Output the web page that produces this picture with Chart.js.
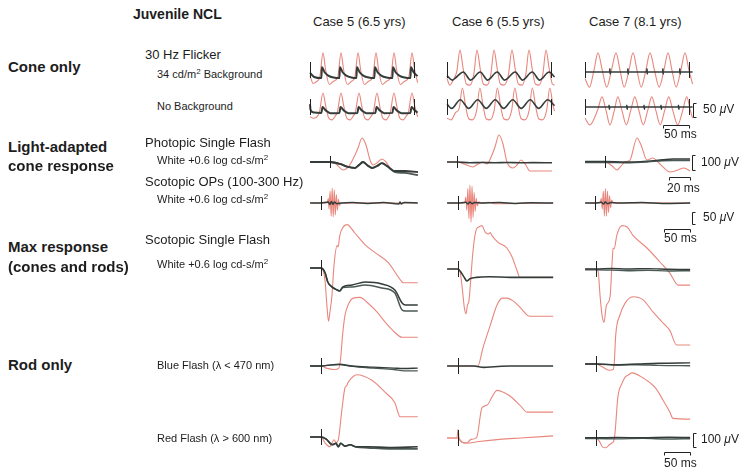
<!DOCTYPE html>
<html>
<head>
<meta charset="utf-8">
<script src="https://cdn.jsdelivr.net/npm/chart.js@4.4.0/dist/chart.umd.min.js"></script>
<style>
body { margin: 0; background: #fff; width: 745px; height: 476px; overflow: hidden; position: relative;
       font-family: "Liberation Sans", Arial, Helvetica, sans-serif; color: #1d1d1d; }
.t { position: absolute; white-space: nowrap; line-height: 1; }
.b { font-weight: bold; font-size: 15px; }
.hd { font-size: 13px; }
.s { font-size: 11px; }
canvas { position: absolute; }
</style>
</head>
<body>
<script>
// time in ms (0 = flash), amplitude in microvolts
const flashMs = [0];
const flickTickMs = [0, 197];
const barUv = [50, 100, 50, 100];
const barMs = [50, 20, 50, 50];

// 30 Hz flicker, 34 cd/m2 background
const c5FlkBgRed = [[0,-20],[6,-48],[12,-42],[18.5,-25],[24.5,61],[29.5,0],[36.5,-52],[44.5,-40],[52.5,-25],[58.5,61],[63.5,0],[70.5,-52],[78.5,-40],[84.6,-25],[90.6,61],[95.6,0],[102.6,-52],[110.6,-40],[118.5,-25],[124.5,61],[129.5,0],[136.5,-52],[144.5,-40],[152.5,-25],[158.5,61],[163.5,0],[170.5,-52],[178.5,-40],[186.5,-25],[192.5,61],[197.5,0],[203,-45]];
const c5FlkBgPt = [[0,-10],[8,-25],[21.5,-29],[22.5,11],[27.5,-8],[34.5,-20],[44.5,-27],[55.5,-29],[56.5,11],[61.5,-8],[68.5,-20],[78.5,-27],[87.6,-29],[88.6,11],[93.6,-8],[100.6,-20],[110.6,-27],[121.5,-29],[122.5,11],[127.5,-8],[134.5,-20],[144.5,-27],[155.5,-29],[156.5,11],[161.5,-8],[168.5,-20],[178.5,-27],[189.5,-29],[190.5,11],[195.5,-8],[203,-22]];
const c6FlkBgRed = [[0,-30],[5,-54],[12,-35],[18.5,-5],[24.5,71],[30.5,5],[36.5,-50],[43.5,-54],[50.6,-15],[56.6,71],[62.6,5],[68.6,-50],[75.6,-54],[82.7,-15],[88.7,71],[94.7,5],[100.7,-50],[107.7,-54],[115.6,-20],[122.6,71],[128.6,5],[134.6,-50],[141.6,-54],[148.7,-15],[154.7,71],[160.7,5],[166.7,-50],[173.7,-54],[180.8,-15],[186.8,71],[192.8,5],[198.8,-50],[203,-54]];
const c6FlkBgPt = [[0,-20],[10,-36],[18,-25],[30.5,-7],[44.5,-36],[62.6,-7],[76.6,-36],[94.7,-7],[108.7,-36],[128.6,-7],[142.6,-36],[160.7,-7],[174.7,-36],[192.8,-7],[203,-25]];
const c7FlkBgRed = [[0,-30],[8.5,-61],[17,0],[24.5,61],[32.5,0],[41,-61],[50,0],[58.5,61],[66,0],[74,-61],[83,0],[90.6,61],[98,0],[106,-61],[115,0],[122.6,61],[131,0],[140,-61],[149,0],[156.6,61],[164,0],[172,-61],[181,0],[188.7,61],[196,0],[203,-50]];
const c7FlkBgPt = [[0,-7],[46.5,-7],[47,4],[47.5,-14],[48,-7],[80.5,-7],[81,4],[81.5,-14],[82,-7],[116.5,-7],[117,4],[117.5,-14],[118,-7],[146.5,-7],[147,4],[147.5,-14],[148,-7],[178.5,-7],[179,4],[179.5,-14],[180,-7],[203,-7]];

// 30 Hz flicker, no background
const c5FlkNoRed = [[0,-35],[6,-40],[17.5,-20],[24.5,50],[29.5,5],[35.5,-40],[41.5,-46],[48.5,-30],[51.5,-20],[58.5,50],[63.5,5],[69.5,-40],[75.5,-46],[82.5,-30],[85.5,-20],[92.5,50],[97.5,5],[103.5,-40],[109.5,-46],[116.4,-30],[119.4,-20],[126.4,50],[131.4,5],[137.4,-40],[143.4,-46],[149.5,-30],[151.5,-20],[158.5,50],[163.5,5],[169.5,-40],[175.5,-46],[182.5,-30],[185.5,-20],[192.5,50],[197.5,5],[203,-35]];
const c5FlkNoPt = [[0,10],[1,-10],[8,-20],[21.5,-21],[23.5,0],[29.5,-12],[38.5,-22],[55.5,-21],[57.5,0],[63.5,-12],[72.5,-22],[89.5,-21],[91.5,0],[97.5,-12],[106.5,-22],[123.4,-21],[125.4,0],[131.4,-12],[140.4,-22],[155.5,-21],[157.5,0],[163.5,-12],[172.5,-22],[189.5,-21],[191.5,0],[197.5,-12],[203,-20]];
const c6FlkNoRed = [[0,-40],[8,-46],[16,-20],[23,-5],[29,68],[35,5],[41,-42],[48,-46],[56,-12],[62,68],[68,5],[74,-42],[81,-46],[89,-12],[95,68],[101,5],[107,-42],[114,-46],[122,-12],[128,68],[134,5],[140,-42],[147,-46],[155,-12],[161,68],[167,5],[173,-42],[180,-46],[188,-12],[194,68],[200,5],[203,-15]];
const c6FlkNoPt = [[0,10],[9,-5],[25,26],[41,-5],[58,26],[74,-5],[91,26],[107,-5],[124,26],[140,-5],[157,26],[173,-5],[190,26],[203,5]];
const c7FlkNoRed = [[0,-40],[9,-64],[24,-10],[32,36],[40,-15],[47,-64],[55,-15],[62,36],[70,-15],[78,-64],[86,-15],[94,36],[102,-15],[110,-64],[118,-15],[126,36],[134,-15],[142,-64],[150,-15],[158,36],[166,-15],[175,-64],[184,-15],[192,36],[199,-15],[203,-40]];
const c7FlkNoPt = [[0,0],[45,0],[45.5,6],[46,-8],[46.5,0],[78.5,0],[79,6],[79.5,-8],[80,0],[111,0],[111.5,6],[112,-8],[112.5,0],[143,0],[143.5,6],[144,-8],[144.5,0],[176,0],[176.5,6],[177,-8],[177.5,0],[203,0]];

// photopic single flash
const c5PhotRed = [[-19,0],[0,0],[5.7,-13],[12.4,-53],[18.1,-27],[23.8,47],[26.7,93],[30.5,160],[34.3,113],[38.1,13],[41,-20],[45.7,0],[49.5,20],[53.3,0],[59,-53],[66.7,-67],[83.8,-67]];
const c5PhotPtA = [[-19,0],[0,0],[9.5,-13],[17.1,-33],[23.8,-40],[27.6,-20],[31.4,0],[35.2,-20],[40,-40],[44.8,-27],[49.5,-7],[54.3,-27],[61.9,-60],[71.4,-60],[83.8,-67]];
const c5PhotPtB = [[-19,0],[0,0],[9.5,-13],[17.1,-33],[23.8,-40],[27.6,-20],[31.4,0],[35.2,-20],[40,-40],[44.8,-27],[49.5,-7],[54.3,-27],[61.9,-67],[71.4,-73],[83.8,-87]];
const c6PhotRed = [[-9.5,0],[0,0],[6.7,-13],[15.2,-33],[20,-13],[24.8,0],[28.6,-13],[33.3,47],[36.2,100],[40,180],[43.8,120],[47.6,0],[53.3,-40],[57.1,-20],[61,13],[64.8,-13],[69.5,-60],[77.1,-60],[90.5,-60]];
const c6PhotPt = [[-9.5,0],[0,0],[12,-5],[24,-3],[36,-5],[48,-3],[60,-5],[72,-4],[90.5,-5]];
const c7PhotRed = [[-19,0],[0,0],[5.7,-20],[11.4,-53],[15.2,-27],[19,0],[23.8,13],[30.5,160],[34.3,113],[40,13],[45.7,27],[50.5,0],[55.2,-33],[61.9,-67],[69.5,-53],[75.2,-40],[81,-60]];
const c7PhotPtA = [[-19,3],[0,3],[20,0],[40,6],[55,15],[65,20],[81,20]];
const c7PhotPtB = [[-19,-3],[0,-3],[20,-5],[40,0],[55,8],[65,10],[81,10]];

// scotopic oscillatory potentials
const c5OpRed = [[-21,0],[0,0],[12,0],[14,20],[15.5,-25],[17.5,50],[19.5,-55],[21.5,62],[23.5,-58],[25.5,55],[27.5,-50],[29.5,35],[31.5,-30],[33.5,15],[35.5,-10],[38,0],[186,0]];
const c5OpPt = [[-21,0],[0,0],[14,4],[17,-6],[20,6],[23,-5],[26,4],[30,-3],[40,0],[60,2],[90,-2],[120,2],[150,-4],[152,4],[154,-4],[160,2],[186,0]];
const c6OpRed = [[-21,0],[0,0],[13,0],[15,25],[17,-30],[19,60],[21,-65],[23,75],[25,-80],[27,70],[29,-60],[31,45],[33,-35],[35,20],[37,-12],[40,5],[44,0],[60,3],[70,-3],[183,0]];
const c6OpPt = [[-21,0],[0,0],[15,3],[19,-4],[23,4],[27,-3],[32,2],[45,0],[80,2],[110,-2],[140,1],[183,0]];
const c7OpRed = [[-19,0],[0,0],[10,0],[12,20],[14,-25],[16,50],[18,-55],[20,60],[22,-55],[24,50],[26,-40],[28,30],[30,-20],[32,12],[35,0],[183,0]];
const c7OpPt = [[-19,0],[0,0],[12,3],[16,-4],[20,4],[24,-3],[30,2],[45,0],[90,2],[130,-2],[183,0]];

// scotopic single flash (max response)
const c5ScotRed = [[-21,0],[0,0],[4,-14],[8,-100],[11,-250],[14.5,-380],[17,-320],[21,-200],[25,20],[31,160],[33,150],[36,230],[42,290],[50,310],[65,250],[85,165],[104,110],[129,40],[156,-100],[158,-105],[186,-105]];
const c5ScotPtA = [[-21,0],[0,0],[8,-36],[13,-100],[21,-135],[31,-157],[36,-164],[42,-135],[60,-121],[85,-100],[117,-114],[142,-157],[156,-250],[162,-264],[186,-264]];
const c5ScotPtB = [[-21,0],[0,0],[8,-36],[13,-100],[21,-135],[31,-157],[36,-164],[42,-140],[60,-135],[85,-121],[117,-143],[142,-179],[156,-300],[162,-307],[186,-307]];
const c6ScotRed = [[-21,0],[0,0],[4,-20],[8,-130],[12,-270],[15.4,-320],[18,-260],[21,-230],[23,-150],[27,50],[31,200],[35,280],[40,300],[46,310],[52,265],[58,250],[62,260],[65,240],[77,190],[94,150],[104,85],[113,-5],[119,-60],[183,-60]];
const c6ScotPt = [[-21,0],[0,0],[5,-20],[12,-60],[17,-85],[23,-70],[35,-60],[60,-55],[100,-60],[183,-60]];
const c7ScotRed = [[-21,0],[0,0],[4,-15],[8,-200],[12,-340],[15.4,-380],[20,-260],[27,-200],[31,50],[33,150],[35,145],[40,240],[50,310],[60,300],[71,240],[98,150],[123,50],[142,-30],[158,-115],[181,-115]];
const c7ScotPtA = [[-21,0],[0,0],[30,4],[60,0],[100,3],[140,-2],[181,-4]];
const c7ScotPtB = [[-21,-6],[0,-6],[30,-8],[60,-12],[100,-9],[140,-14],[181,-12]];

// rod only: blue flash
const c5BlueRed = [[-21,0],[0,0],[10,-15],[25,-25],[33,-20],[37,30],[42,240],[46,360],[52,435],[62,485],[75,490],[90,450],[108,385],[123,315],[138,255],[156,205],[186,205]];
const c5BluePtA = [[-21,0],[0,0],[20,8],[35,12],[60,0],[100,-8],[140,-15],[160,-18],[186,-15]];
const c5BluePtB = [[-21,0],[0,0],[20,8],[35,10],[60,-3],[100,-15],[140,-25],[160,-35],[186,-35]];
const c6BlueRed = [[-21,0],[0,0],[38,0],[48,130],[62,290],[75,435],[85,485],[94,485],[106,465],[119,420],[138,355],[183,355]];
const c6BluePt = [[-21,0],[0,0],[30,0],[50,-10],[70,-5],[100,0],[183,0]];
const c7BlueRed = [[-21,0],[0,0],[12,-20],[25,-45],[33,-40],[35,0],[38,210],[46,350],[56,435],[71,480],[90,460],[110,370],[127,300],[142,240],[155,136],[181,136]];
const c7BluePtA = [[-21,0],[0,0],[40,-5],[80,0],[120,5],[181,8]];
const c7BluePtB = [[-21,0],[0,0],[40,-8],[80,-5],[120,-10],[181,-12]];

// rod only: red flash
const c5RedRed = [[-21,0],[0,0],[8,-43],[17,-70],[25,-20],[29,-40],[33,-25],[40,190],[46,350],[50,370],[52,390],[65,440],[69,445],[98,405],[123,320],[142,245],[152,145],[186,145]];
const c5RedPtA = [[-21,0],[0,0],[10,-15],[22,-55],[29,-45],[33,-70],[38,-45],[46,-65],[56,-55],[67,-70],[90,-70],[130,-75],[186,-70]];
const c5RedPtB = [[-21,0],[0,0],[10,-15],[22,-55],[29,-45],[33,-70],[38,-45],[46,-65],[56,-55],[67,-72],[90,-78],[130,-85],[186,-85]];
const c6RedRedA = [[-21,0],[-2,0],[0,60],[2,0],[8,-30],[17,-36],[25,-10],[36,5],[46,215],[56,235],[65,290],[75,340],[85,330],[100,300],[119,235],[133,185],[183,185]];
const c6RedRedB = [[-21,0],[0,0],[8,-30],[17,-36],[40,-25],[80,-10],[120,0],[183,15]];
const c7RedRed = [[-21,0],[0,0],[6,-20],[13,-65],[19,-70],[25,-50],[31,-35],[35,-10],[37,55],[42,290],[50,390],[56,435],[62,450],[69,465],[90,430],[114,360],[129,270],[142,185],[148,140],[181,135]];
const c7RedPtA = [[-21,2],[0,2],[40,4],[90,2],[140,5],[181,4]];
const c7RedPtB = [[-21,-4],[0,-4],[40,-6],[90,-3],[140,-7],[181,-5]];

const red = '#e8877d';
const grays = ['#353d3b', '#4b5a56'];
const colLeft = [310, 447, 585];

const rows = {
  flkBg: { base: [70, 70, 70], org: [310, 447, 585], pxMs: 0.53, pxUv: 0.28, up: 40, down: 40, tick: 8 },
  flkNo: { base: [107, 107, 107], org: [310, 447, 585], pxMs: 0.53, pxUv: 0.28, up: 40, down: 40, tick: 8 },
  phot:  { base: [162, 162, 162], org: [330, 457, 605], pxMs: 1.05, pxUv: 0.15, up: 40, down: 30, tick: 6 },
  ops:   { base: [203, 203, 203], org: [321, 458, 595], pxMs: 0.52, pxUv: 0.24, up: 30, down: 32, tick: 7 },
  scot:  { base: [268, 269, 269], org: [321, 458, 596], pxMs: 0.52, pxUv: 0.14, up: 60, down: 65, tick: 8 },
  blue:  { base: [366, 366, 364], org: [321, 458, 596], pxMs: 0.52, pxUv: 0.14, up: 80, down: 20, tick: 8 },
  redf:  { base: [437, 438, 438], org: [321, 458, 596], pxMs: 0.52, pxUv: 0.14, up: 80, down: 30, tick: 8 }
};

const marks = {
  id: 'marks',
  afterDatasetsDraw(chart, args, o) {
    const { ctx } = chart, x = chart.scales.x, y = chart.scales.y;
    ctx.save();
    ctx.strokeStyle = '#222';
    ctx.lineWidth = 1;
    (o.ticks || []).forEach(t => {
      const px = Math.round(x.getPixelForValue(t)) + 0.5, py = y.getPixelForValue(0);
      ctx.beginPath(); ctx.moveTo(px, py - o.len); ctx.lineTo(px, py + o.len); ctx.stroke();
    });
    if (o.bar) {
      const b = o.bar;
      const bx = Math.round(x.getPixelForValue(b.at[0])) + 0.5;
      const y0 = Math.round(y.getPixelForValue(b.at[1])) + 0.5, y1 = Math.round(y.getPixelForValue(b.at[1] + b.uv)) + 0.5;
      ctx.beginPath(); ctx.moveTo(bx + 3, y0); ctx.lineTo(bx, y0); ctx.lineTo(bx, y1); ctx.lineTo(bx + 3, y1); ctx.stroke();
      const hy = Math.round(y.getPixelForValue(b.msAt[1])) + 0.5;
      const x0 = Math.round(x.getPixelForValue(b.msAt[0])) + 0.5, x1 = Math.round(x.getPixelForValue(b.msAt[0] + b.ms)) + 0.5;
      ctx.beginPath(); ctx.moveTo(x0, hy + 3); ctx.lineTo(x0, hy); ctx.lineTo(x1, hy); ctx.lineTo(x1, hy + 3); ctx.stroke();
    }
    ctx.restore();
  }
};

function trace(pts, color, w) {
  return {
    data: pts.map(p => ({ x: p[0], y: p[1] })),
    borderColor: color, borderWidth: w, pointRadius: 0, fill: false, clip: false,
    cubicInterpolationMode: 'monotone'
  };
}

function draw(key, col, normal, patient, ticks, bar, pw) {
  const r = rows[key];
  const base = r.base[col], org = r.org[col];
  const left = colLeft[col] - 12, right = col === 2 ? 745 : colLeft[col] + 125;
  const top = base - r.up, bottom = base + r.down;
  const cv = document.createElement('canvas');
  cv.width = right - left; cv.height = bottom - top;
  cv.style.left = left + 'px'; cv.style.top = top + 'px';
  cv.style.width = (right - left) + 'px'; cv.style.height = (bottom - top) + 'px';
  document.body.appendChild(cv);
  const sets = [];
  patient.forEach((p, i) => sets.push(trace(p, grays[i], pw || 1.5)));
  normal.forEach(p => sets.push(trace(p, red, 1.1)));
  new Chart(cv, {
    type: 'line',
    data: { datasets: sets },
    options: {
      responsive: false, animation: false, events: [],
      layout: { padding: 0 },
      plugins: { legend: { display: false }, tooltip: { enabled: false },
                 marks: { ticks: ticks, len: r.tick, bar: bar } },
      scales: {
        x: { type: 'linear', display: false, min: (left - org) / r.pxMs, max: (right - org) / r.pxMs },
        y: { display: false, min: (base - bottom) / r.pxUv, max: (base - top) / r.pxUv }
      }
    },
    plugins: [marks]
  });
}

draw('flkBg', 0, [c5FlkBgRed], [c5FlkBgPt], flickTickMs, null, 2);
draw('flkBg', 1, [c6FlkBgRed], [c6FlkBgPt], flickTickMs, null, 1.6);
draw('flkBg', 2, [c7FlkBgRed], [c7FlkBgPt], flickTickMs, null, 1.6);
draw('flkNo', 0, [c5FlkNoRed], [c5FlkNoPt], flickTickMs, null, 2);
draw('flkNo', 1, [c6FlkNoRed], [c6FlkNoPt], flickTickMs, null, 1.6);
draw('flkNo', 2, [c7FlkNoRed], [c7FlkNoPt], flickTickMs, { uv: barUv[0], ms: barMs[0], at: [204, -36], msAt: [147, -64] }, 1.6);
draw('phot', 0, [c5PhotRed], [c5PhotPtA, c5PhotPtB], flashMs, null, 1.8);
draw('phot', 1, [c6PhotRed], [c6PhotPt], flashMs, null, 1.6);
draw('phot', 2, [c7PhotRed], [c7PhotPtA, c7PhotPtB], flashMs, { uv: barUv[1], ms: barMs[1], at: [83, -53], msAt: [61, -100] }, 1.4);
draw('ops', 0, [c5OpRed], [c5OpPt], flashMs, null, 1.5);
draw('ops', 1, [c6OpRed], [c6OpPt], flashMs, null, 1.5);
draw('ops', 2, [c7OpRed], [c7OpPt], flashMs, { uv: barUv[2], ms: barMs[2], at: [186.5, -87.5], msAt: [132.7, -108] }, 1.5);
draw('scot', 0, [c5ScotRed], [c5ScotPtA, c5ScotPtB], flashMs, null, 1.5);
draw('scot', 1, [c6ScotRed], [c6ScotPt], flashMs, null, 1.6);
draw('scot', 2, [c7ScotRed], [c7ScotPtA, c7ScotPtB], flashMs, null, 1.4);
draw('blue', 0, [c5BlueRed], [c5BluePtA, c5BluePtB], flashMs, null, 1.4);
draw('blue', 1, [c6BlueRed], [c6BluePt], flashMs, null, 1.6);
draw('blue', 2, [c7BlueRed], [c7BluePtA, c7BluePtB], flashMs, null, 1.4);
draw('redf', 0, [c5RedRed], [c5RedPtA, c5RedPtB], flashMs, null, 1.6);
draw('redf', 1, [c6RedRedA, c6RedRedB], [], flashMs, null, 1.5);
draw('redf', 2, [c7RedRed], [c7RedPtA, c7RedPtB], flashMs, { uv: barUv[3], ms: barMs[3], at: [186.5, -64], msAt: [131, -100] }, 1.4);

const labels = [
  ['Juvenile NCL', 133, 15, 'b', 14],
  ['Case 5 (6.5 yrs)', 313, 22, 'hd', 13],
  ['Case 6 (5.5 yrs)', 452, 22, 'hd', 13],
  ['Case 7 (8.1 yrs)', 589, 22, 'hd', 13],
  ['Cone only', 8, 67, 'b', 15],
  ['30 Hz Flicker', 145, 55, 'hd', 13],
  ['34 cd/m<sup style="font-size:8px;vertical-align:4px">2</sup> Background', 157, 74, 's', 11],
  ['No Background', 157, 107, 's', 11],
  ['Light-adapted', 8, 147, 'b', 15],
  ['cone response', 8, 166, 'b', 15],
  ['Photopic Single Flash', 145, 143, 'hd', 13],
  ['White +0.6 log cd-s/m<sup style="font-size:8px;vertical-align:4px">2</sup>', 157, 160, 's', 11],
  ['Scotopic OPs (100-300 Hz)', 145, 182, 'hd', 13],
  ['White +0.6 log cd-s/m<sup style="font-size:8px;vertical-align:4px">2</sup>', 157, 199, 's', 11],
  ['Max response', 8, 247, 'b', 15],
  ['(cones and rods)', 8, 267, 'b', 15],
  ['Scotopic Single Flash', 145, 240, 'hd', 13],
  ['White +0.6 log cd-s/m<sup style="font-size:8px;vertical-align:4px">2</sup>', 157, 264, 's', 11],
  ['Rod only', 8, 365, 'b', 15],
  ['Blue Flash (λ &lt; 470 nm)', 157, 366, 's', 11],
  ['Red Flash (λ &gt; 600 nm)', 157, 439, 's', 11],
  [barUv[0] + ' <i>μ</i>V', 703, 110, 's', 12],
  [barMs[0] + ' ms', 664, 135, 's', 12],
  [barUv[1] + ' <i>μ</i>V', 701, 163, 's', 12],
  [barMs[1] + ' ms', 667, 189, 's', 12],
  [barUv[2] + ' <i>μ</i>V', 703, 218, 's', 12],
  [barMs[2] + ' ms', 664, 239, 's', 12],
  [barUv[3] + ' <i>μ</i>V', 701, 440, 's', 12],
  [barMs[3] + ' ms', 664, 464, 's', 12]
];
labels.forEach(([txt, x, y, cls, fs]) => {
  const d = document.createElement('div');
  d.className = 't ' + cls;
  d.style.fontSize = fs + 'px';
  d.style.left = x + 'px';
  d.style.top = Math.round(y - fs * 0.55) + 'px';
  d.innerHTML = txt;
  document.body.appendChild(d);
});
</script>
</body>
</html>
